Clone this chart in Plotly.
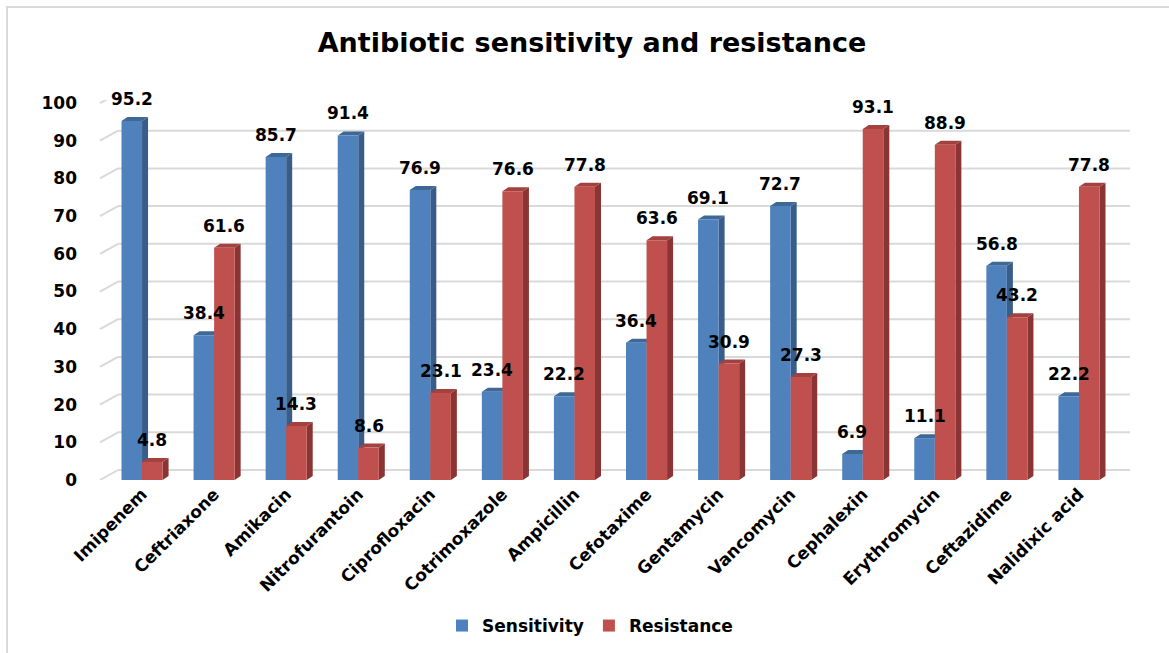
import plotly.graph_objects as go

categories = ["Imipenem", "Ceftriaxone", "Amikacin", "Nitrofurantoin", "Ciprofloxacin",
              "Cotrimoxazole", "Ampicillin", "Cefotaxime", "Gentamycin", "Vancomycin",
              "Cephalexin", "Erythromycin", "Ceftazidime", "Nalidixic acid"]
sensitivity = [95.2, 38.4, 85.7, 91.4, 76.9, 23.4, 22.2, 36.4, 69.1, 72.7, 6.9, 11.1, 56.8, 22.2]
resistance = [4.8, 61.6, 14.3, 8.6, 23.1, 76.6, 77.8, 63.6, 30.9, 27.3, 93.1, 88.9, 43.2, 77.8]
y_ticks = [0, 10, 20, 30, 40, 50, 60, 70, 80, 90, 100]

BLUE, BLUE_SIDE, BLUE_TOP = "#4F81BD", "#385D8A", "#3E6896"
RED, RED_SIDE, RED_TOP = "#C0504D", "#8A3533", "#A2413E"
FONT = "DejaVu Sans"

# layout geometry (pixels)
W, H = 1169, 653
ML, MR, MT, MB = 106, 39, 100, 173
PW = W - ML - MR
PH = H - MT - MB
YMAX = 100.8
XDOM_END = (1115 - ML) / PW
BARGAP = 0.43
BW = (1 - BARGAP) / 2
px_per_cat = XDOM_END * PW / len(categories)
px_per_unit = PH / YMAX
DX = 6 / px_per_cat
DY = 4 / px_per_unit

fig = go.Figure()
fig.add_trace(go.Bar(name="Sensitivity", x=categories, y=sensitivity,
                     marker=dict(color=BLUE, line=dict(width=0))))
fig.add_trace(go.Bar(name="Resistance", x=categories, y=resistance,
                     marker=dict(color=RED, line=dict(width=0))))

shapes = []
# frame
shapes.append(dict(type="rect", xref="paper", yref="paper",
                   x0=(7 - ML) / PW, x1=(W + 10 - ML) / PW,
                   y0=-(H + 10 - (MT + PH)) / PH, y1=(MT + PH - 7) / PH,
                   line=dict(color="#D9D9D9", width=2), fillcolor="rgba(0,0,0,0)", layer="below"))
# back-wall gridlines and diagonal connectors
gx0 = (118 - ML) / PW
dx0 = (100 - ML) / PW
for t in y_ticks:
    shapes.append(dict(type="line", xref="paper", yref="y", ysizemode="pixel", yanchor=t,
                       x0=gx0, x1=1.0, y0=10, y1=10,
                       line=dict(color="#D9D9D9", width=2), layer="below"))
    shapes.append(dict(type="line", xref="paper", yref="y", ysizemode="pixel", yanchor=t,
                       x0=dx0, x1=gx0, y0=0, y1=10,
                       line=dict(color="#D9D9D9", width=2), layer="below"))

# 3D faces of bars
for i in range(len(categories)):
    for vals, off, side, top in ((sensitivity, -BW, BLUE_SIDE, BLUE_TOP),
                                 (resistance, 0.0, RED_SIDE, RED_TOP)):
        v = vals[i]
        x0 = i + off
        x1 = x0 + BW
        side_path = f"M {x1},0 L {x1 + DX},{DY} L {x1 + DX},{v + DY} L {x1},{v} Z"
        top_path = f"M {x0},{v} L {x0 + DX},{v + DY} L {x1 + DX},{v + DY} L {x1},{v} Z"
        shapes.append(dict(type="path", xref="x", yref="y", path=side_path,
                           fillcolor=side, line=dict(width=0), layer="between"))
        shapes.append(dict(type="path", xref="x", yref="y", path=top_path,
                           fillcolor=top, line=dict(width=0), layer="between"))

annotations = []
for i in range(len(categories)):
    for vals, off in ((sensitivity, -BW / 2), (resistance, BW / 2)):
        annotations.append(dict(x=i + off, y=vals[i], xref="x", yref="y",
                                text=f"{vals[i]:.1f}", showarrow=False,
                                yanchor="bottom", yshift=10,
                                font=dict(family=FONT, size=17, color="#000000", weight="bold")))

fig.update_layout(
    width=W, height=H,
    margin=dict(l=ML, r=MR, t=MT, b=MB, autoexpand=False),
    paper_bgcolor="white", plot_bgcolor="rgba(0,0,0,0)",
    barmode="group", bargap=BARGAP, bargroupgap=0,
    title=dict(text="<b>Antibiotic sensitivity and resistance</b>", x=592 / W, xanchor="center",
               y=1 - 43 / H, yanchor="middle",
               font=dict(family=FONT, size=27, color="#000000")),
    font=dict(family=FONT, color="#000000"),
    xaxis=dict(domain=[0, XDOM_END], tickangle=-45, showgrid=False, showline=False,
               ticks="", automargin=False,
               tickfont=dict(family=FONT, size=17, color="#000000", weight="bold"),
               range=[-0.5, len(categories) - 0.5]),
    yaxis=dict(range=[0, YMAX], tickvals=y_ticks, showgrid=False, zeroline=False,
               showline=False, ticks="", ticklabelstandoff=28, automargin=False,
               tickfont=dict(family=FONT, size=17, color="#000000", weight="bold")),
    legend=dict(orientation="h", x=(590 - ML) / PW, xanchor="center",
                y=-(626 - (MT + PH)) / PH, yanchor="middle",
                font=dict(family=FONT, size=17, color="#000000", weight="bold"),
                itemwidth=30, traceorder="normal"),
    shapes=shapes,
    annotations=annotations,
    hovermode=False,
)

fig.write_html("out.html", post_script="document.body.style.margin='0';",
               config={"displayModeBar": False})
